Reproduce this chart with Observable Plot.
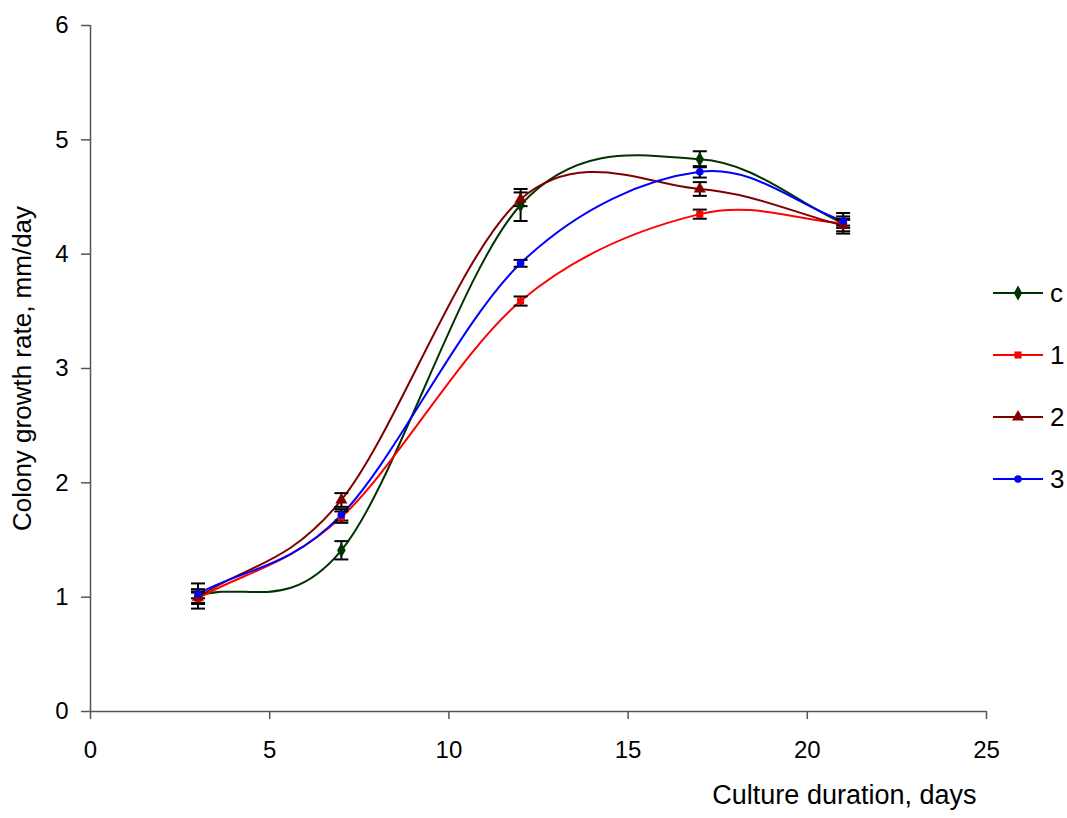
<!DOCTYPE html>
<html>
<head>
<meta charset="utf-8">
<script src="https://cdn.jsdelivr.net/npm/d3@7"></script>
<script src="https://cdn.jsdelivr.net/npm/@observablehq/plot@0.6"></script>
<style>
  html, body { margin: 0; padding: 0; background: #fff; }
  #wrap { position: relative; width: 1067px; height: 818px; font-family: "Liberation Sans", Arial, sans-serif; }
  #legend { position: absolute; left: 992px; top: 0; }
  .lg { position: absolute; left: 0; width: 80px; height: 30px; display: flex; align-items: center; }
  .lg span { font-size: 26px; color: #000; margin-left: 6px; line-height: 1; }
</style>
</head>
<body>
<div id="wrap"><div id="legend"></div></div>
<script>
// Data
const days = [3, 7, 12, 17, 21];
const seriesNames = ["c", "1", "2", "3"];
const valC  = [1.01, 1.41, 4.43, 4.83, 4.27];
const val1  = [0.99, 1.70, 3.59, 4.35, 4.27];
const val2  = [1.00, 1.85, 4.48, 4.57, 4.25];
const val3  = [1.03, 1.72, 3.92, 4.72, 4.29];
const errC  = [0.11, 0.08, 0.14, 0.07, 0.09];
const err1  = [0.05, 0.05, 0.04, 0.04, 0.04];
const err2  = [0.05, 0.06, 0.06, 0.06, 0.05];
const err3  = [0.04, 0.05, 0.03, 0.05, 0.04];
const xTicks = [0, 5, 10, 15, 20, 25];
const yTicks = [0, 1, 2, 3, 4, 5, 6];
const xTitle = "Culture duration, days";
const yTitle = "Colony growth rate, mm/day";

const colors = {"c": "#003300", "1": "#ff0000", "2": "#800000", "3": "#0000ff"};
const symbols = {"c": "diamond", "1": "square", "2": "triangle", "3": "circle"};
const symSize = {"c": 4.5, "1": 4, "2": 4.5, "3": 3.8};

const vals = [valC, val1, val2, val3];
const errs = [errC, err1, err2, err3];
const rows = [];
seriesNames.forEach((s, i) => days.forEach((d, j) => rows.push({s, x: d, y: vals[i][j], e: errs[i][j], lo: vals[i][j] - errs[i][j], hi: vals[i][j] + errs[i][j]})));

// Spreadsheet-style smoothed line (cardinal Bezier, chord tangents at the ends)
function smoothCurve(context) {
  let pts = [];
  return {
    areaStart() {}, areaEnd() {},
    lineStart() { pts = []; },
    point(x, y) { pts.push([+x, +y]); },
    lineEnd() {
      const n = pts.length;
      if (!n) return;
      context.moveTo(pts[0][0], pts[0][1]);
      if (n === 1) return;
      if (n === 2) { context.lineTo(pts[1][0], pts[1][1]); return; }
      const T = pts.map((p, i) => {
        if (i === 0) return [(pts[1][0] - p[0]) / 3, (pts[1][1] - p[1]) / 3];
        if (i === n - 1) return [(p[0] - pts[n - 2][0]) / 3, (p[1] - pts[n - 2][1]) / 3];
        return [(pts[i + 1][0] - pts[i - 1][0]) / 6, (pts[i + 1][1] - pts[i - 1][1]) / 6];
      });
      for (let i = 0; i < n - 1; i++) {
        const a = pts[i], b = pts[i + 1];
        context.bezierCurveTo(a[0] + T[i][0], a[1] + T[i][1], b[0] - T[i + 1][0], b[1] - T[i + 1][1], b[0], b[1]);
      }
    }
  };
}

// horizontal-line symbol for error-bar caps (half width = r)
const capSymbol = {
  draw(ctx, size) {
    const w = Math.sqrt(size / Math.PI);
    ctx.moveTo(-w, 0);
    ctx.lineTo(w, 0);
  }
};

const marks = [
  Plot.ruleX([0], {y1: 0, y2: 6, stroke: "#555", strokeWidth: 1.5}),
  Plot.ruleY([0], {x1: 0, x2: 25, stroke: "#555", strokeWidth: 1.5}),
  Plot.axisX({ticks: xTicks, tickSize: 8, tickPadding: 21, stroke: "#555", strokeWidth: 1.5, fontSize: 24, label: null, tickFormat: d => String(d)}),
  Plot.axisY({ticks: yTicks, tickSize: 9, tickPadding: 13, stroke: "#555", strokeWidth: 1.5, fontSize: 24, label: null, tickFormat: d => String(d)}),
];
seriesNames.forEach(s => {
  marks.push(Plot.line(rows.filter(r => r.s === s), {x: "x", y: "y", stroke: colors[s], strokeWidth: 2, curve: smoothCurve}));
});
seriesNames.forEach(s => {
  const data = rows.filter(r => r.s === s);
  marks.push(Plot.ruleX(data, {x: "x", y1: "lo", y2: "hi", stroke: "#000", strokeWidth: 2}));
  marks.push(Plot.dot(data, {x: "x", y: "lo", symbol: capSymbol, r: 7, stroke: "#000", strokeWidth: 2, fill: "none"}));
  marks.push(Plot.dot(data, {x: "x", y: "hi", symbol: capSymbol, r: 7, stroke: "#000", strokeWidth: 2, fill: "none"}));
});
seriesNames.forEach(s => {
  marks.push(Plot.dot(rows.filter(r => r.s === s), {x: "x", y: "y", symbol: symbols[s], fill: colors[s], stroke: "none", r: symSize[s]}));
});
marks.push(Plot.text([yTitle], {frameAnchor: "left", dx: -68, rotate: -90, fontSize: 26, fill: "#000", textAnchor: "middle"}));
marks.push(Plot.text([xTitle], {frameAnchor: "bottom-right", dx: -10, dy: 92, fontSize: 27, fill: "#000", textAnchor: "end"}));

const chart = Plot.plot({
  width: 1067,
  height: 818,
  marginLeft: 90,
  marginRight: 81,
  marginTop: 25,
  marginBottom: 107,
  x: {type: "linear", domain: [0, 25]},
  y: {type: "linear", domain: [0, 6]},
  style: {fontFamily: "'Liberation Sans', Arial, sans-serif", fontSize: "24px", color: "#000", background: "#fff"},
  marks
});
document.getElementById("wrap").prepend(chart);

// Legend (HTML)
const legend = document.getElementById("legend");
const ys = [293, 355, 417, 479];
const symNames = ["circle","cross","diamond","square","star","triangle","wye"];
seriesNames.forEach((s, i) => {
  const row = document.createElement("div");
  row.className = "lg";
  row.style.top = (ys[i] - 15) + "px";
  const sym = d3.symbolsFill[symNames.indexOf(symbols[s])];
  const path = d3.symbol(sym, Math.PI * symSize[s] * symSize[s])();
  row.innerHTML = `<svg width="52" height="30"><line x1="1" x2="51" y1="15" y2="15" stroke="${colors[s]}" stroke-width="2"/><path d="${path}" transform="translate(26,15)" fill="${colors[s]}"/></svg><span>${s}</span>`;
  legend.appendChild(row);
});
</script>
</body>
</html>
